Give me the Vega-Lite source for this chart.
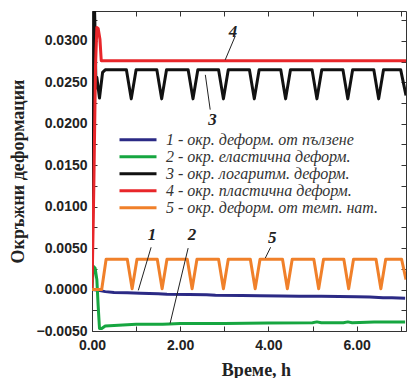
{
  "$schema": "https://vega.github.io/schema/vega-lite/v6.json",
  "width": 314,
  "height": 320,
  "autosize": {"type": "none"},
  "padding": {"left": 92, "top": 11, "right": 3, "bottom": 47},
  "background": "white",
  "config": {
    "view": {"stroke": null},
    "axis": {
      "domainColor": "#333",
      "tickColor": "#333",
      "tickSize": -5,
      "grid": false,
      "labelFont": "Liberation Sans",
      "labelFontWeight": "bold",
      "labelFontSize": 14,
      "labelColor": "#222",
      "labelFlush": false,
      "labelOverlap": false,
      "titleFont": "Liberation Serif",
      "titleFontWeight": "bold",
      "titleFontSize": 18,
      "titleColor": "#222"
    },
    "legend": {
      "orient": "none",
      "legendX": 26,
      "legendY": 121,
      "padding": 0,
      "symbolType": "stroke",
      "symbolSize": 1369,
      "symbolStrokeWidth": 3,
      "labelFont": "Liberation Serif",
      "labelFontStyle": "italic",
      "labelFontSize": 16,
      "labelColor": "#333",
      "labelOffset": 8,
      "labelLimit": 0,
      "clipHeight": 15.7,
      "rowPadding": 0
    }
  },
  "datasets": {
    "names": [
      {"k": 1, "name": "1 - окр. деформ. от пълзене"},
      {"k": 2, "name": "2 - окр. еластична деформ."},
      {"k": 3, "name": "3 - окр. логаритм. деформ."},
      {"k": 4, "name": "4 - окр. пластична деформ."},
      {"k": 5, "name": "5 - окр. деформ. от темп. нат."}
    ],
    "curves": [
      {"k": 1, "t": 0, "v": 0},
      {"k": 1, "t": 0.15, "v": -0.0001},
      {"k": 1, "t": 0.3, "v": -0.00025},
      {"k": 1, "t": 0.5, "v": -0.00035},
      {"k": 1, "t": 0.8, "v": -0.0004},
      {"k": 1, "t": 1.1, "v": -0.00045},
      {"k": 1, "t": 1.5, "v": -0.0005},
      {"k": 1, "t": 1.7, "v": -0.00058},
      {"k": 1, "t": 2.2, "v": -0.0006},
      {"k": 1, "t": 2.6, "v": -0.00063},
      {"k": 1, "t": 2.8, "v": -0.0007},
      {"k": 1, "t": 3.4, "v": -0.00072},
      {"k": 1, "t": 3.8, "v": -0.00075},
      {"k": 1, "t": 4.3, "v": -0.00077},
      {"k": 1, "t": 4.7, "v": -0.0008},
      {"k": 1, "t": 5.2, "v": -0.00082},
      {"k": 1, "t": 5.6, "v": -0.00085},
      {"k": 1, "t": 6.0, "v": -0.00088},
      {"k": 1, "t": 6.3, "v": -0.0009},
      {"k": 1, "t": 6.6, "v": -0.00098},
      {"k": 1, "t": 6.8, "v": -0.001},
      {"k": 1, "t": 7.1, "v": -0.00105},

      {"k": 2, "t": 0, "v": 0},
      {"k": 2, "t": 0.03, "v": 0.0028},
      {"k": 2, "t": 0.07, "v": 0.0026},
      {"k": 2, "t": 0.11, "v": 0.0012},
      {"k": 2, "t": 0.14, "v": -0.002},
      {"k": 2, "t": 0.17, "v": -0.0047},
      {"k": 2, "t": 0.22, "v": -0.0047},
      {"k": 2, "t": 0.3, "v": -0.0044},
      {"k": 2, "t": 0.6, "v": -0.0043},
      {"k": 2, "t": 1.0, "v": -0.0042},
      {"k": 2, "t": 1.6, "v": -0.0042},
      {"k": 2, "t": 1.75, "v": -0.00415},
      {"k": 2, "t": 2.0, "v": -0.0041},
      {"k": 2, "t": 3.0, "v": -0.0041},
      {"k": 2, "t": 4.0, "v": -0.00405},
      {"k": 2, "t": 5.0, "v": -0.004},
      {"k": 2, "t": 5.1, "v": -0.0039},
      {"k": 2, "t": 5.2, "v": -0.004},
      {"k": 2, "t": 5.7, "v": -0.004},
      {"k": 2, "t": 5.8, "v": -0.0039},
      {"k": 2, "t": 5.9, "v": -0.004},
      {"k": 2, "t": 6.4, "v": -0.0039},
      {"k": 2, "t": 7.1, "v": -0.0039},

      {"k": 3, "t": 0, "v": 0.0015},
      {"k": 3, "t": 0.03, "v": 0.016},
      {"k": 3, "t": 0.055, "v": 0.0345},
      {"k": 3, "t": 0.07, "v": 0.031},
      {"k": 3, "t": 0.09, "v": 0.0243},
      {"k": 3, "t": 0.11, "v": 0.0256},
      {"k": 3, "t": 0.17, "v": 0.0231},
      {"k": 3, "t": 0.24, "v": 0.0262},
      {"k": 3, "t": 0.3, "v": 0.0265},
      {"k": 3, "t": 0.78, "v": 0.0265},
      {"k": 3, "t": 0.89, "v": 0.023},
      {"k": 3, "t": 1.0, "v": 0.0265},
      {"k": 3, "t": 1.47, "v": 0.0265},
      {"k": 3, "t": 1.58, "v": 0.023},
      {"k": 3, "t": 1.69, "v": 0.0265},
      {"k": 3, "t": 2.18, "v": 0.0265},
      {"k": 3, "t": 2.29, "v": 0.023},
      {"k": 3, "t": 2.4, "v": 0.0265},
      {"k": 3, "t": 2.87, "v": 0.0265},
      {"k": 3, "t": 2.98, "v": 0.023},
      {"k": 3, "t": 3.09, "v": 0.0265},
      {"k": 3, "t": 3.57, "v": 0.0265},
      {"k": 3, "t": 3.68, "v": 0.023},
      {"k": 3, "t": 3.79, "v": 0.0265},
      {"k": 3, "t": 4.28, "v": 0.0265},
      {"k": 3, "t": 4.39, "v": 0.023},
      {"k": 3, "t": 4.5, "v": 0.0265},
      {"k": 3, "t": 4.99, "v": 0.0265},
      {"k": 3, "t": 5.1, "v": 0.023},
      {"k": 3, "t": 5.21, "v": 0.0265},
      {"k": 3, "t": 5.69, "v": 0.0265},
      {"k": 3, "t": 5.8, "v": 0.023},
      {"k": 3, "t": 5.91, "v": 0.0265},
      {"k": 3, "t": 6.39, "v": 0.0265},
      {"k": 3, "t": 6.5, "v": 0.023},
      {"k": 3, "t": 6.61, "v": 0.0265},
      {"k": 3, "t": 7.0, "v": 0.0265},
      {"k": 3, "t": 7.12, "v": 0.0234},

      {"k": 4, "t": 0, "v": 0},
      {"k": 4, "t": 0.04, "v": 0.012},
      {"k": 4, "t": 0.08, "v": 0.027},
      {"k": 4, "t": 0.11, "v": 0.0316},
      {"k": 4, "t": 0.14, "v": 0.0315},
      {"k": 4, "t": 0.18, "v": 0.0302},
      {"k": 4, "t": 0.21, "v": 0.0276},
      {"k": 4, "t": 7.12, "v": 0.0276},

      {"k": 5, "t": 0, "v": 0},
      {"k": 5, "t": 0.22, "v": 0},
      {"k": 5, "t": 0.32, "v": 0.00365},
      {"k": 5, "t": 0.8, "v": 0.00365},
      {"k": 5, "t": 0.91, "v": 0.0001},
      {"k": 5, "t": 1.02, "v": 0.00365},
      {"k": 5, "t": 1.48, "v": 0.00365},
      {"k": 5, "t": 1.59, "v": 0.0001},
      {"k": 5, "t": 1.7, "v": 0.00365},
      {"k": 5, "t": 2.16, "v": 0.00365},
      {"k": 5, "t": 2.27, "v": 0.0001},
      {"k": 5, "t": 2.38, "v": 0.00365},
      {"k": 5, "t": 2.87, "v": 0.00365},
      {"k": 5, "t": 2.98, "v": 0.0001},
      {"k": 5, "t": 3.09, "v": 0.00365},
      {"k": 5, "t": 3.59, "v": 0.00365},
      {"k": 5, "t": 3.7, "v": 0.0001},
      {"k": 5, "t": 3.81, "v": 0.00365},
      {"k": 5, "t": 4.32, "v": 0.00365},
      {"k": 5, "t": 4.43, "v": 0.0001},
      {"k": 5, "t": 4.54, "v": 0.00365},
      {"k": 5, "t": 5.03, "v": 0.00365},
      {"k": 5, "t": 5.14, "v": 0.0001},
      {"k": 5, "t": 5.25, "v": 0.00365},
      {"k": 5, "t": 5.71, "v": 0.00365},
      {"k": 5, "t": 5.82, "v": 0.0001},
      {"k": 5, "t": 5.93, "v": 0.00365},
      {"k": 5, "t": 6.44, "v": 0.00365},
      {"k": 5, "t": 6.55, "v": 0.0001},
      {"k": 5, "t": 6.66, "v": 0.00365},
      {"k": 5, "t": 7.02, "v": 0.00365},
      {"k": 5, "t": 7.12, "v": 0.0012}
    ],
    "marks": [
      {"n": "1", "t": 1.36, "v": 0.0066},
      {"n": "2", "t": 2.27, "v": 0.0066},
      {"n": "3", "t": 2.73, "v": 0.0205},
      {"n": "4", "t": 3.2, "v": 0.0311},
      {"n": "5", "t": 4.09, "v": 0.0062}
    ],
    "leaders": [
      {"t": 1.34, "v": 0.0051, "t2": 1.05, "v2": -0.0001},
      {"t": 2.18, "v": 0.005, "t2": 1.77, "v2": -0.0041},
      {"t": 2.68, "v": 0.0217, "t2": 2.57, "v2": 0.0259},
      {"t": 3.25, "v": 0.0306, "t2": 3.02, "v2": 0.0277},
      {"t": 4.05, "v": 0.0051, "t2": 3.93, "v2": 0.0038}
    ]
  },
  "layer": [
    {
      "data": {"name": "curves"},
      "transform": [
        {"lookup": "k", "from": {"data": {"name": "names"}, "key": "k", "fields": ["name"]}}
      ],
      "mark": {"type": "line", "strokeWidth": 3, "clip": true, "strokeJoin": "round"},
      "encoding": {
        "x": {
          "field": "t", "type": "quantitative",
          "scale": {"domain": [0, 7.12], "nice": false, "zero": false},
          "axis": {
            "orient": "bottom",
            "title": "Време, h",
            "values": [0, 1, 2, 3, 4, 5, 6, 7],
            "labelExpr": "datum.value % 2 == 0 ? format(datum.value, '.2f') : ''",
            "labelPadding": 12,
            "titleX": 164,
            "titleY": 39,
            "titleBaseline": "middle"
          }
        },
        "y": {
          "field": "v", "type": "quantitative",
          "scale": {"domain": [-0.005, 0.0336], "nice": false, "zero": false},
          "axis": {
            "orient": "left",
            "title": "Окръжни деформации",
            "values": [-0.005, -0.0025, 0, 0.0025, 0.005, 0.0075, 0.01, 0.0125, 0.015, 0.0175, 0.02, 0.0225, 0.025, 0.0275, 0.03, 0.0325],
            "labelExpr": "abs(round(datum.value * 400)) % 2 == 0 ? format(datum.value, '.4f') : ''",
            "labelPadding": 10,
            "titleX": -74,
            "titleBaseline": "middle"
          }
        },
        "color": {
          "field": "name", "type": "nominal",
          "scale": {
            "domain": ["1 - окр. деформ. от пълзене", "2 - окр. еластична деформ.", "3 - окр. логаритм. деформ.", "4 - окр. пластична деформ.", "5 - окр. деформ. от темп. нат."],
            "range": ["#2b2a85", "#16a640", "#111111", "#e8262a", "#f0802a"]
          },
          "legend": {"title": null}
        },
        "order": {"field": "t", "type": "quantitative"}
      }
    },
    {
      "data": {"name": "marks"},
      "mark": {"type": "text", "font": "Liberation Serif", "fontStyle": "italic", "fontWeight": "bold", "fontSize": 17, "color": "#222", "baseline": "middle", "align": "center"},
      "encoding": {
        "x": {"field": "t", "type": "quantitative", "axis": {"orient": "top", "title": null, "labels": false, "values": [0, 1, 2, 3, 4, 5, 6, 7]}},
        "y": {"field": "v", "type": "quantitative", "axis": {"orient": "right", "title": null, "labels": false, "values": [-0.005, -0.0025, 0, 0.0025, 0.005, 0.0075, 0.01, 0.0125, 0.015, 0.0175, 0.02, 0.0225, 0.025, 0.0275, 0.03, 0.0325]}},
        "text": {"field": "n"}
      }
    },
    {
      "data": {"name": "leaders"},
      "mark": {"type": "rule", "color": "#222", "strokeWidth": 1},
      "encoding": {
        "x": {"field": "t", "type": "quantitative", "axis": null},
        "y": {"field": "v", "type": "quantitative", "axis": null},
        "x2": {"field": "t2"},
        "y2": {"field": "v2"}
      }
    }
  ],
  "resolve": {"axis": {"x": "independent", "y": "independent"}}
}
